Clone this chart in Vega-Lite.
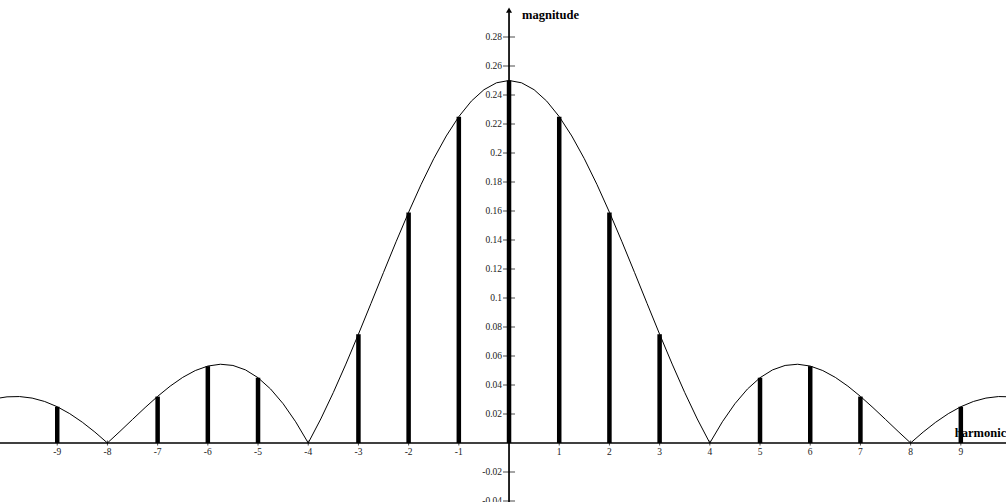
{
  "$schema": "https://vega.github.io/schema/vega-lite/v6.json",
  "width": 1006,
  "height": 502,
  "autosize": {"type": "none"},
  "padding": 0,
  "background": "white",
  "config": {"view": {"stroke": null}},
  "datasets": {
    "stems": [
      {"n": -9, "mag": 0.025}, {"n": -8, "mag": 0}, {"n": -7, "mag": 0.032},
      {"n": -6, "mag": 0.053}, {"n": -5, "mag": 0.045}, {"n": -4, "mag": 0},
      {"n": -3, "mag": 0.075}, {"n": -2, "mag": 0.159}, {"n": -1, "mag": 0.225},
      {"n": 0, "mag": 0.25}, {"n": 1, "mag": 0.225}, {"n": 2, "mag": 0.159},
      {"n": 3, "mag": 0.075}, {"n": 4, "mag": 0}, {"n": 5, "mag": 0.045},
      {"n": 6, "mag": 0.053}, {"n": 7, "mag": 0.032}, {"n": 8, "mag": 0},
      {"n": 9, "mag": 0.025}
    ],
    "envelope": [
      {"x": -10.25, "mag": 0.03046}, {"x": -10, "mag": 0.03183}, {"x": -9.75, "mag": 0.03202},
      {"x": -9.5, "mag": 0.03096}, {"x": -9.25, "mag": 0.02861}, {"x": -9, "mag": 0.02501},
      {"x": -8.75, "mag": 0.02021}, {"x": -8.5, "mag": 0.01433}, {"x": -8.25, "mag": 0.00753},
      {"x": -8, "mag": 0}, {"x": -7.75, "mag": 0.00801}, {"x": -7.5, "mag": 0.01624},
      {"x": -7.25, "mag": 0.02439}, {"x": -7, "mag": 0.03215}, {"x": -6.75, "mag": 0.03921},
      {"x": -6.5, "mag": 0.04524}, {"x": -6.25, "mag": 0.04995}, {"x": -6, "mag": 0.05305},
      {"x": -5.75, "mag": 0.0543}, {"x": -5.5, "mag": 0.05347}, {"x": -5.25, "mag": 0.05041},
      {"x": -5, "mag": 0.04502}, {"x": -4.75, "mag": 0.03723}, {"x": -4.5, "mag": 0.02707},
      {"x": -4.25, "mag": 0.01461}, {"x": -4, "mag": 0}, {"x": -3.75, "mag": 0.01656},
      {"x": -3.5, "mag": 0.0348}, {"x": -3.25, "mag": 0.05441}, {"x": -3, "mag": 0.07503},
      {"x": -2.75, "mag": 0.09624}, {"x": -2.5, "mag": 0.11763}, {"x": -2.25, "mag": 0.13875},
      {"x": -2, "mag": 0.15915}, {"x": -1.75, "mag": 0.1784}, {"x": -1.5, "mag": 0.19605},
      {"x": -1.25, "mag": 0.21173}, {"x": -1, "mag": 0.22508}, {"x": -0.75, "mag": 0.23579},
      {"x": -0.5, "mag": 0.24362}, {"x": -0.25, "mag": 0.2484}, {"x": 0, "mag": 0.25},
      {"x": 0.25, "mag": 0.2484}, {"x": 0.5, "mag": 0.24362}, {"x": 0.75, "mag": 0.23579},
      {"x": 1, "mag": 0.22508}, {"x": 1.25, "mag": 0.21173}, {"x": 1.5, "mag": 0.19605},
      {"x": 1.75, "mag": 0.1784}, {"x": 2, "mag": 0.15915}, {"x": 2.25, "mag": 0.13875},
      {"x": 2.5, "mag": 0.11763}, {"x": 2.75, "mag": 0.09624}, {"x": 3, "mag": 0.07503},
      {"x": 3.25, "mag": 0.05441}, {"x": 3.5, "mag": 0.0348}, {"x": 3.75, "mag": 0.01656},
      {"x": 4, "mag": 0}, {"x": 4.25, "mag": 0.01461}, {"x": 4.5, "mag": 0.02707},
      {"x": 4.75, "mag": 0.03723}, {"x": 5, "mag": 0.04502}, {"x": 5.25, "mag": 0.05041},
      {"x": 5.5, "mag": 0.05347}, {"x": 5.75, "mag": 0.0543}, {"x": 6, "mag": 0.05305},
      {"x": 6.25, "mag": 0.04995}, {"x": 6.5, "mag": 0.04524}, {"x": 6.75, "mag": 0.03921},
      {"x": 7, "mag": 0.03215}, {"x": 7.25, "mag": 0.02439}, {"x": 7.5, "mag": 0.01624},
      {"x": 7.75, "mag": 0.00801}, {"x": 8, "mag": 0}, {"x": 8.25, "mag": 0.00753},
      {"x": 8.5, "mag": 0.01433}, {"x": 8.75, "mag": 0.02021}, {"x": 9, "mag": 0.02501},
      {"x": 9.25, "mag": 0.02861}, {"x": 9.5, "mag": 0.03096}, {"x": 9.75, "mag": 0.03202},
      {"x": 10, "mag": 0.03183}, {"x": 10.25, "mag": 0.03046}
    ],
    "yticks": [
      {"v": -0.04, "label": "-0.04"}, {"v": -0.02, "label": "-0.02"},
      {"v": 0.02, "label": "0.02"}, {"v": 0.04, "label": "0.04"},
      {"v": 0.06, "label": "0.06"}, {"v": 0.08, "label": "0.08"},
      {"v": 0.1, "label": "0.1"}, {"v": 0.12, "label": "0.12"},
      {"v": 0.14, "label": "0.14"}, {"v": 0.16, "label": "0.16"},
      {"v": 0.18, "label": "0.18"}, {"v": 0.2, "label": "0.2"},
      {"v": 0.22, "label": "0.22"}, {"v": 0.24, "label": "0.24"},
      {"v": 0.26, "label": "0.26"}, {"v": 0.28, "label": "0.28"}
    ],
    "xticks": [
      {"n": -9, "label": "-9"}, {"n": -8, "label": "-8"}, {"n": -7, "label": "-7"},
      {"n": -6, "label": "-6"}, {"n": -5, "label": "-5"}, {"n": -4, "label": "-4"},
      {"n": -3, "label": "-3"}, {"n": -2, "label": "-2"}, {"n": -1, "label": "-1"},
      {"n": 1, "label": "1"}, {"n": 2, "label": "2"}, {"n": 3, "label": "3"},
      {"n": 4, "label": "4"}, {"n": 5, "label": "5"}, {"n": 6, "label": "6"},
      {"n": 7, "label": "7"}, {"n": 8, "label": "8"}, {"n": 9, "label": "9"}
    ],
    "yaxis": [{"lo": -0.05, "hi": 0.297}]
  },
  "layer": [
    {
      "data": {"name": "envelope"},
      "mark": {"type": "line", "color": "black", "strokeWidth": 1, "clip": true},
      "encoding": {
        "x": {"field": "x", "type": "quantitative", "scale": {"domain": [-10.14, 9.9], "nice": false, "zero": false}, "axis": null},
        "y": {"field": "mag", "type": "quantitative", "scale": {"domain": [-0.0407, 0.3055], "nice": false, "zero": false}, "axis": null}
      }
    },
    {
      "data": {"values": [{}]},
      "mark": {"type": "rule", "color": "black", "strokeWidth": 1.5},
      "encoding": {
        "y": {"datum": 0, "type": "quantitative"}
      }
    },
    {
      "data": {"name": "yaxis"},
      "mark": {"type": "rule", "color": "black", "strokeWidth": 1.7},
      "encoding": {
        "x": {"datum": 0, "type": "quantitative"},
        "y": {"field": "lo", "type": "quantitative"},
        "y2": {"field": "hi"}
      }
    },
    {
      "data": {"values": [{}]},
      "mark": {"type": "point", "shape": "triangle-up", "filled": true, "color": "black", "size": 36, "opacity": 1},
      "encoding": {
        "x": {"datum": 0, "type": "quantitative"},
        "y": {"datum": 0.2985, "type": "quantitative"}
      }
    },
    {
      "data": {"name": "yticks"},
      "mark": {"type": "tick", "orient": "horizontal", "color": "black", "size": 12, "thickness": 1},
      "encoding": {
        "x": {"datum": 0, "type": "quantitative"},
        "y": {"field": "v", "type": "quantitative"}
      }
    },
    {
      "data": {"name": "yticks"},
      "mark": {"type": "text", "align": "right", "baseline": "middle", "dx": -7, "font": "Liberation Serif", "fontSize": 9.5, "color": "#222"},
      "encoding": {
        "x": {"datum": 0, "type": "quantitative"},
        "y": {"field": "v", "type": "quantitative"},
        "text": {"field": "label", "type": "nominal"}
      }
    },
    {
      "data": {"name": "xticks"},
      "mark": {"type": "tick", "orient": "vertical", "color": "black", "size": 5, "thickness": 1},
      "encoding": {
        "x": {"field": "n", "type": "quantitative"},
        "y": {"datum": 0, "type": "quantitative"}
      }
    },
    {
      "data": {"name": "xticks"},
      "mark": {"type": "text", "align": "center", "baseline": "top", "dy": 4, "font": "Liberation Serif", "fontSize": 9.5, "color": "#222"},
      "encoding": {
        "x": {"field": "n", "type": "quantitative"},
        "y": {"datum": 0, "type": "quantitative"},
        "text": {"field": "label", "type": "nominal"}
      }
    },
    {
      "data": {"values": [{}]},
      "mark": {"type": "text", "text": "magnitude", "align": "left", "baseline": "middle", "dx": 13, "font": "Liberation Serif", "fontSize": 12.5, "fontWeight": "bold", "color": "black"},
      "encoding": {
        "x": {"datum": 0, "type": "quantitative"},
        "y": {"datum": 0.2955, "type": "quantitative"}
      }
    },
    {
      "data": {"values": [{}]},
      "mark": {"type": "text", "text": "harmonic", "align": "left", "baseline": "middle", "font": "Liberation Serif", "fontSize": 12.5, "fontWeight": "bold", "color": "black"},
      "encoding": {
        "x": {"datum": 8.88, "type": "quantitative"},
        "y": {"datum": 0.0069, "type": "quantitative"}
      }
    },
    {
      "data": {"name": "stems"},
      "mark": {"type": "rule", "color": "black", "strokeWidth": 4.5, "strokeCap": "butt"},
      "encoding": {
        "x": {"field": "n", "type": "quantitative"},
        "y": {"field": "mag", "type": "quantitative"},
        "y2": {"datum": 0}
      }
    }
  ]
}
